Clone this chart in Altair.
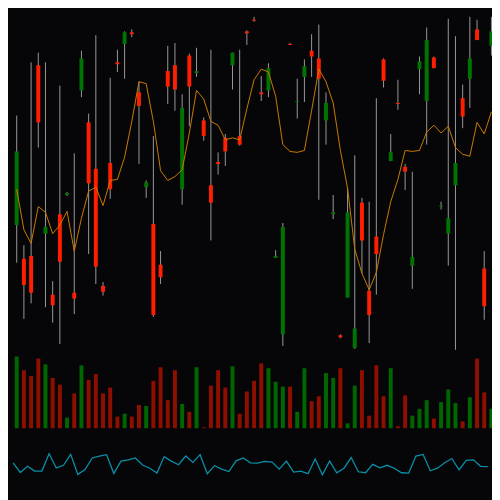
import altair as alt
import pandas as pd

# ---- data (67 sessions) ----
high = [124.3, 110.9, 129.8, 130.8, 129.8, 107.2, 127.4, 116.4, 120.4, 131.0,
        124.5, 132.6, 107.1, 128.2, 131.1, 133.0, 133.2, 127.8, 117.6, 122.2,
        110.3, 131.5, 131.8, 126.5, 130.7, 131.3, 124.1, 131.1, 120.5, 122.4,
        130.8, 131.1, 133.1, 134.5, 128.4, 129.7, 110.4, 113.2, 131.8, 128.1,
        130.1, 132.7, 133.7, 126.7, 116.1, 101.7, 116.8, 120.2, 115.8, 115.4,
        126.1, 130.2, 122.4, 128.0, 119.3, 118.5, 130.4, 133.4, 130.4, 115.4,
        134.3, 132.5, 127.5, 134.5, 134.2, 110.3, 134.5]
low = [109.1, 103.3, 104.9, 121.0, 104.5, 102.9, 100.7, 116.0, 103.8, 126.2,
       110.0, 106.9, 105.7, 115.7, 128.8, 128.1, 132.4, 119.3, 115.8, 103.5,
       106.9, 125.5, 124.8, 115.1, 123.2, 128.3, 121.7, 111.4, 118.2, 119.1,
       127.0, 121.2, 131.6, 134.0, 125.8, 126.2, 109.6, 100.5, 131.6, 124.0,
       125.7, 128.3, 115.6, 121.3, 113.6, 101.3, 105.5, 100.2, 108.0, 100.8,
       105.8, 127.2, 119.6, 124.9, 116.6, 106.4, 126.5, 121.3, 129.2, 114.6,
       108.8, 100.1, 123.0, 125.1, 132.1, 103.2, 130.5]
open_ = [113.0, 109.5, 109.8, 129.5, 112.1, 105.8, 114.1, 116.1, 106.0, 126.9,
         123.6, 118.8, 106.7, 119.4, 129.8, 131.7, 132.9, 126.7, 116.9, 113.1,
         108.9, 128.9, 129.5, 116.7, 130.5, 128.7, 123.8, 117.1, 119.5, 122.0,
         129.5, 122.2, 133.0, 134.2, 126.7, 126.9, 109.6, 101.7, 131.7, 125.7,
         128.3, 131.0, 130.2, 123.8, 114.1, 101.6, 105.5, 100.3, 115.3, 106.2,
         111.8, 130.1, 119.6, 125.6, 119.0, 108.8, 129.1, 125.8, 130.3, 114.9,
         112.1, 117.1, 126.1, 128.1, 133.2, 108.5, 131.5]
close = [120.6, 106.8, 106.0, 123.6, 112.8, 104.7, 109.2, 116.3, 105.4, 130.2,
         117.3, 108.7, 106.1, 116.7, 129.6, 132.9, 132.7, 125.3, 117.4, 103.7,
         107.6, 127.3, 127.0, 125.1, 127.3, 128.9, 122.2, 115.3, 119.3, 120.6,
         130.8, 121.3, 132.8, 134.1, 126.5, 129.2, 109.8, 112.8, 131.6, 125.8,
         129.4, 130.4, 128.1, 125.6, 114.3, 101.4, 114.3, 102.3, 111.4, 103.7,
         110.0, 127.9, 120.5, 125.5, 118.5, 109.7, 129.9, 132.1, 129.2, 115.0,
         113.7, 119.4, 124.2, 130.2, 132.1, 104.6, 133.0]
moving_avg = [116.7, 112.5, 111.1, 114.9, 114.3, 112.1, 113.0, 114.4, 110.3, 113.7,
              116.5, 116.9, 115.0, 117.6, 117.7, 120.0, 123.7, 127.8, 127.6, 123.7,
              118.6, 117.6, 118.0, 118.7, 122.5, 126.9, 126.0, 123.7, 123.3, 121.8,
              122.0, 121.8, 125.0, 128.0, 129.1, 128.8, 126.3, 121.3, 120.6, 120.5,
              120.7, 124.8, 129.1, 127.8, 125.6, 120.7, 116.8, 110.5, 108.0, 106.3,
              108.1, 112.0, 115.4, 117.7, 120.7, 120.6, 120.7, 122.6, 123.3, 122.5,
              123.2, 121.0, 120.3, 120.1, 123.6, 122.4, 124.7]
volume = [740, 600, 540, 720, 660, 520, 450, 110, 360, 650,
          500, 560, 360, 420, 120, 150, 120, 240, 230, 490,
          630, 290, 600, 250, 170, 630, 10, 440, 600, 420,
          640, 150, 380, 490, 670, 620, 480, 430, 430, 170,
          620, 280, 330, 570, 520, 620, 50, 440, 600, 130,
          650, 330, 620, 20, 340, 130, 200, 290, 100, 270,
          400, 260, 70, 320, 720, 370, 200]
oscillator = [14.3, 4.3, 10.7, 5.7, 5.7, 23.7, 9.0, 11.7, 23.0, 2.3,
              7.3, 19.3, 21.3, 22.7, 3.3, 16.0, 17.3, 19.3, 12.0, 8.7,
              3.7, 20.7, 16.0, 12.3, 21.3, 14.7, 22.7, 3.0, 11.3, 7.7,
              5.3, 16.3, 19.3, 14.3, 14.0, 15.7, 15.0, 7.7, 16.0, 4.7,
              5.7, 3.0, 18.3, 2.0, 16.0, 4.0, 8.7, 19.7, 5.0, 4.0,
              12.7, 9.0, 11.7, 8.7, 4.0, 3.7, 21.3, 23.0, 6.0, 8.7,
              14.3, 18.7, 7.0, 16.7, 17.3, 10.7, 10.3]

df = pd.DataFrame({
    "i": list(range(len(high))),
    "high": high, "low": low, "open": open_, "close": close,
    "ma": moving_avg, "vol": volume, "osc": oscillator,
})

BG = "#060608"
WICK = "#9a9a9a"
RED = "#ff1e00"
GREEN = "#007400"
VRED = "#8e0e00"
VGREEN = "#006600"
ORANGE = "#cc7a00"
CYAN = "#0a8fa6"

W = 492
xs = alt.Scale(domain=[-1.211, 66.08], nice=False, zero=False, padding=0)
x = alt.X("i:Q", scale=xs, axis=None)
price_scale = alt.Scale(domain=[100, 135], range=[344.4, 0], nice=False, zero=False, padding=0)
up = "datum.close >= datum.open"

base = alt.Chart(df)

wick = base.mark_rule(color=WICK, strokeWidth=1).encode(
    x=x, y=alt.Y("low:Q", scale=price_scale, axis=None), y2="high:Q")

body = base.mark_bar(size=4).encode(
    x=x, y=alt.Y("open:Q", scale=price_scale, axis=None), y2="close:Q",
    color=alt.condition(up, alt.value(GREEN), alt.value(RED)))

ma = base.mark_line(color=ORANGE, strokeWidth=1).encode(
    x=x, y=alt.Y("ma:Q", scale=price_scale, axis=None))

vol = base.mark_bar(size=4).encode(
    x=x,
    y=alt.Y("vol:Q", scale=alt.Scale(domain=[0, 800], range=[423.1, 344.4], nice=False, zero=False, padding=0), axis=None),
    color=alt.condition(up, alt.value(VGREEN), alt.value(VRED)))

osc = base.transform_calculate(ix="datum.i - 0.5").mark_line(color=CYAN, strokeWidth=1.3).encode(
    x=alt.X("ix:Q", scale=xs, axis=None),
    y=alt.Y("osc:Q", scale=alt.Scale(domain=[0, 30], range=[472.3, 442.8], nice=False, zero=False, padding=0), axis=None))

chart = alt.layer(wick, body, ma, vol, osc).resolve_scale(y="independent").properties(
    width=W, height=W, background=BG, padding=0, autosize="none"
).configure_view(stroke=None)

chart.save("out.html", embed_options={"renderer": "svg", "actions": False})
